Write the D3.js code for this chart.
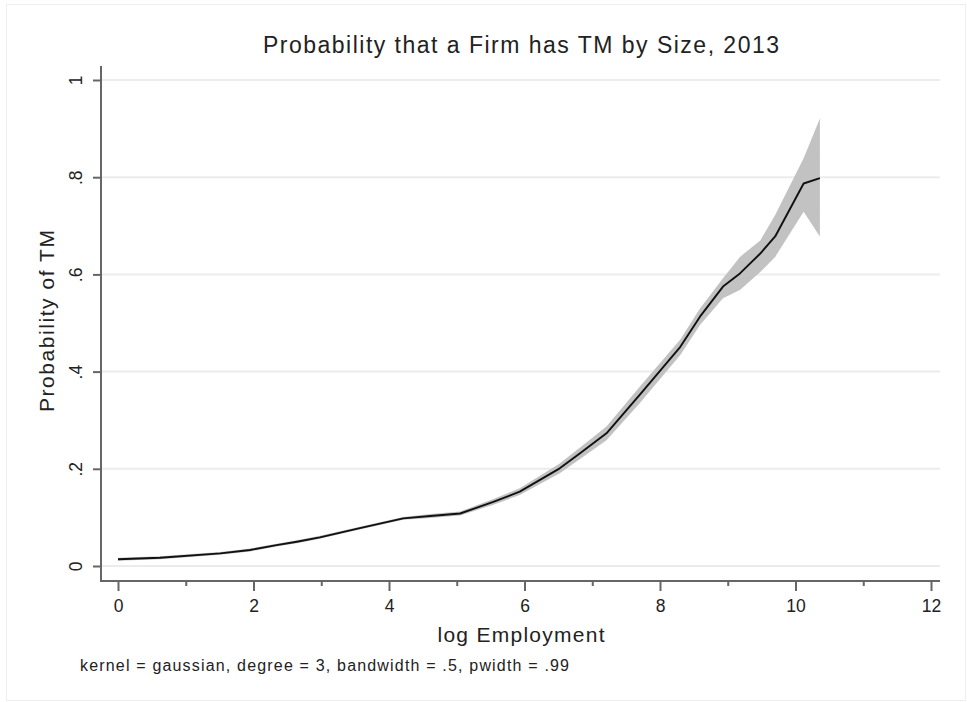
<!DOCTYPE html>
<html>
<head>
<meta charset="utf-8">
<script src="https://cdn.jsdelivr.net/npm/d3@7"></script>
<style>
  html, body { margin: 0; padding: 0; background: #fff; }
  svg { display: block; font-family: "Liberation Sans", Arial, Helvetica, sans-serif; }
</style>
</head>
<body>
<svg id="chart" width="967" height="702"></svg>
<script>
// Local polynomial fit of TM probability on log employment, with 95% band
const logEmp = [0.00, 0.62, 1.51, 1.95, 2.34, 2.64, 2.98, 3.57, 4.21, 4.61, 5.05,
                5.54, 5.93, 6.52, 6.82, 7.21, 7.70, 8.30, 8.59, 8.93, 9.18, 9.48,
                9.70, 10.12, 10.36];
const probTM = [0.014, 0.017, 0.026, 0.033, 0.043, 0.050, 0.059, 0.078, 0.098, 0.103, 0.108,
                0.132, 0.153, 0.201, 0.232, 0.273, 0.352, 0.451, 0.513, 0.575, 0.602, 0.643,
                0.678, 0.787, 0.798];
const ciUpper = [0.017, 0.020, 0.029, 0.036, 0.046, 0.053, 0.062, 0.081, 0.101, 0.107, 0.112,
                 0.138, 0.160, 0.211, 0.244, 0.287, 0.369, 0.466, 0.530, 0.592, 0.636, 0.670,
                 0.722, 0.839, 0.921];
const ciLower = [0.011, 0.014, 0.023, 0.030, 0.040, 0.047, 0.056, 0.075, 0.095, 0.099, 0.104,
                 0.126, 0.146, 0.191, 0.220, 0.259, 0.335, 0.434, 0.496, 0.551, 0.568, 0.605,
                 0.636, 0.729, 0.678];
const xTicks = [0, 2, 4, 6, 8, 10, 12];
const xMinorTicks = [1, 3, 5, 7, 9, 11];
const yTicks = [0, 0.2, 0.4, 0.6, 0.8, 1];
const yTickLabels = ["0", ".2", ".4", ".6", ".8", "1"];

const titleText = "Probability that a Firm has TM by Size, 2013";
const xTitle = "log Employment";
const yTitle = "Probability of TM";
const noteText = "kernel = gaussian, degree = 3, bandwidth = .5, pwidth = .99";

const rows = logEmp.map((v, i) => ({ x: v, y: probTM[i], hi: ciUpper[i], lo: ciLower[i] }));

const svg = d3.select("#chart");
const plot = { left: 101, right: 940, top: 66, bottom: 581 };

const x = d3.scaleLinear().domain([0, 12]).range([118, 931]);
const y = d3.scaleLinear().domain([0, 1]).range([566, 80]);

// faint outer frame
svg.append("rect")
  .attr("x", 6.5).attr("y", 4.5).attr("width", 959).attr("height", 696)
  .attr("fill", "none").attr("stroke", "#eeeeee").attr("stroke-width", 1);

// horizontal grid
svg.append("g").selectAll("line").data(yTicks).join("line")
  .attr("x1", plot.left).attr("x2", plot.right)
  .attr("y1", d => y(d)).attr("y2", d => y(d))
  .attr("stroke", "#ececec").attr("stroke-width", 2);

// confidence band
svg.append("path").datum(rows)
  .attr("fill", "#c2c2c2")
  .attr("d", d3.area().x(d => x(d.x)).y0(d => y(d.lo)).y1(d => y(d.hi)));

// fitted line
svg.append("path").datum(rows)
  .attr("fill", "none").attr("stroke", "#111").attr("stroke-width", 1.9)
  .attr("stroke-linejoin", "round")
  .attr("d", d3.line().x(d => x(d.x)).y(d => y(d.y)));

// axes
const axisColor = "#666";
const xAxis = svg.append("g").attr("transform", `translate(0,${plot.bottom})`)
  .call(d3.axisBottom(x).tickValues(xTicks).tickSize(10).tickPadding(9).tickFormat(d3.format("d")));
const xMinor = svg.append("g").attr("transform", `translate(0,${plot.bottom})`)
  .call(d3.axisBottom(x).tickValues(xMinorTicks).tickSize(5).tickFormat(""));
const yAxis = svg.append("g").attr("transform", `translate(${plot.left},0)`)
  .call(d3.axisLeft(y).tickValues(yTicks).tickSize(8).tickFormat((d, i) => yTickLabels[i]));

[xAxis, xMinor, yAxis].forEach(g => {
  g.select(".domain").remove();
  g.selectAll(".tick line").attr("stroke", axisColor).attr("stroke-width", 2);
  g.selectAll("text").attr("fill", "#222").style("font-size", "17.5px")
    .style("font-family", "'Liberation Sans', Arial, sans-serif");
});
yAxis.selectAll(".tick text")
  .attr("x", null)
  .attr("text-anchor", "middle")
  .attr("transform", "translate(-25,0) rotate(-90)")
  .attr("dy", "0.35em");

svg.append("line").attr("x1", plot.left).attr("x2", plot.left)
  .attr("y1", plot.top).attr("y2", plot.bottom + 1)
  .attr("stroke", axisColor).attr("stroke-width", 2);
svg.append("line").attr("x1", plot.left - 1).attr("x2", plot.right)
  .attr("y1", plot.bottom).attr("y2", plot.bottom)
  .attr("stroke", axisColor).attr("stroke-width", 2);

// titles
svg.append("text").attr("x", 521).attr("y", 53).attr("text-anchor", "middle")
  .style("font-size", "23px").attr("fill", "#222")
  .attr("textLength", 516).attr("lengthAdjust", "spacing").text(titleText);
svg.append("text").attr("x", 521).attr("y", 642).attr("text-anchor", "middle")
  .style("font-size", "21px").attr("fill", "#222")
  .attr("textLength", 167).attr("lengthAdjust", "spacing").text(xTitle);
svg.append("text").attr("transform", "translate(54,321) rotate(-90)").attr("text-anchor", "middle")
  .style("font-size", "21px").attr("fill", "#222")
  .attr("textLength", 182).attr("lengthAdjust", "spacing").text(yTitle);
svg.append("text").attr("x", 80).attr("y", 671)
  .style("font-size", "16px").attr("fill", "#222")
  .attr("textLength", 489).attr("lengthAdjust", "spacing").text(noteText);
</script>
</body>
</html>
